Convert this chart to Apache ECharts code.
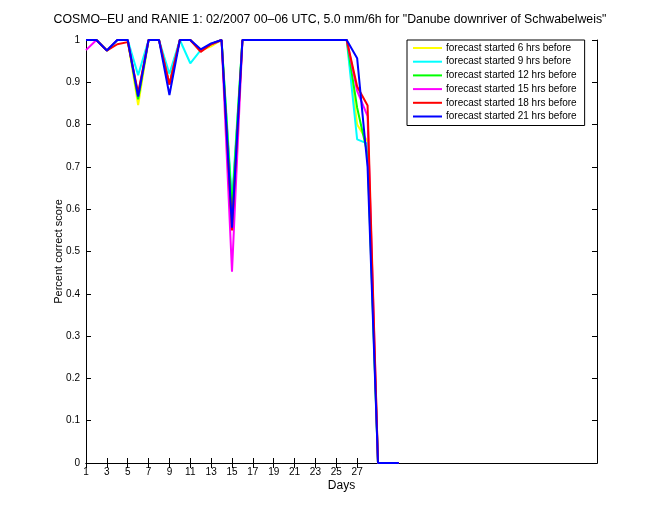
<!DOCTYPE html>
<html>
<head>
<meta charset="utf-8">
<script src="https://cdn.jsdelivr.net/npm/echarts@6/dist/echarts.min.js"></script>
<style>html,body{margin:0;padding:0;background:#fff}#c{width:660px;height:520px}</style>
</head>
<body>
<div id="c"></div>
<script>
var days = [1,2,3,4,5,6,7,8,9,10,11,12,13,14,15,16,17,18,19,20,21,22,23,24,25,26,27,28,29,30,31];
var xTickLabels = [1,3,5,7,9,11,13,15,17,19,21,23,25,27];
var yTickLabels = [0,0.1,0.2,0.3,0.4,0.5,0.6,0.7,0.8,0.9,1];
var seriesNames = ['forecast started 6 hrs before','forecast started 9 hrs before','forecast started 12 hrs before','forecast started 15 hrs before','forecast started 18 hrs before','forecast started 21 hrs before'];
var seriesColors = ['#ffff00','#00ffff','#00ff00','#ff00ff','#ff0000','#0000ff'];

var f06 = [1,1,0.975,1,1,0.846,1,1,0.895,1,1,0.975,0.985,1,0.60,1,1,1,1,1,1,1,1,1,1,1,0.80,0.76,0,0,0];
var f09 = [1,1,0.975,1,1,0.917,1,1,0.92,1,0.945,0.976,0.99,1,0.62,1,1,1,1,1,1,1,1,1,1,1,0.765,0.755,0,0,0];
var f12 = [1,1,0.975,1,1,0.86,1,1,0.895,1,1,0.975,0.99,1,0.60,1,1,1,1,1,1,1,1,1,1,1,0.84,0.73,0,0,0];
var f15 = [0.976,1,0.975,1,1,0.87,1,1,0.895,1,1,0.975,0.99,1,0.452,1,1,1,1,1,1,1,1,1,1,1,0.88,0.82,0,0,0];
var f18 = [1,1,0.975,0.99,0.995,0.875,1,1,0.895,1,1,0.972,0.99,1,0.55,1,1,1,1,1,1,1,1,1,1,1,0.89,0.845,0,0,0];
var f21 = [1,1,0.975,1,1,0.866,1,1,0.87,1,1,0.978,0.992,1,0.556,1,1,1,1,1,1,1,1,1,1,1,0.957,0.70,0,0,0];
var allSeries = [f06,f09,f12,f15,f18,f21];

var FONT = '"Liberation Sans", Arial, Helvetica, sans-serif';
var chart = echarts.init(document.getElementById('c'), null, {renderer:'canvas'});

function pairs(vals){ return days.map(function(d,i){ return [d, vals[i]]; }); }

var series = allSeries.map(function(vals, i){
  return {
    name: seriesNames[i], type:'line', data: pairs(vals),
    symbol:'none', showSymbol:false, animation:false,
    lineStyle:{color:seriesColors[i], width:2},
    itemStyle:{color:seriesColors[i]},
    xAxisIndex:0, yAxisIndex:0
  };
});

var axisLineStyle = {show:true, lineStyle:{color:'#000', width:1}};
chart.setOption({
  animation:false,
  backgroundColor:'#fff',
  title:{
    text:'COSMO\u2013EU and RANIE 1: 02/2007 00\u201306 UTC, 5.0 mm/6h for "Danube downriver of Schwabelweis"',
    left:'center', top:9,
    textStyle:{fontFamily:FONT, fontSize:12.3, fontWeight:'normal', color:'#000'}
  },
  legend:{
    orient:'vertical', left:407, top:40,
    backgroundColor:'#fff', borderColor:'#000', borderWidth:1,
    padding:[3,8,4,5], itemWidth:29, itemHeight:10, itemGap:3.7,
    itemStyle:{opacity:0},
    lineStyle:{width:2},
    textStyle:{fontFamily:FONT, fontSize:10, lineHeight:10, color:'#000', padding:[0,0,0,-1]},
    data: seriesNames
  },
  grid:{left:86, right:63, top:40, bottom:57, containLabel:false},
  xAxis:[{
    type:'value', min:1, max:50, position:'bottom',
    name:'Days', nameLocation:'middle', nameGap:17, nameMoveOverlap:false,
    nameTextStyle:{fontFamily:FONT, fontSize:12, color:'#000'},
    axisLine:axisLineStyle,
    axisTick:{show:true, inside:true, length:5, customValues:xTickLabels, lineStyle:{color:'#000'}},
    axisLabel:{show:true, customValues:xTickLabels, fontFamily:FONT, fontSize:10, color:'#000', margin:4},
    splitLine:{show:false}
  },{
    type:'value', min:1, max:50, position:'top',
    axisLine:axisLineStyle,
    axisTick:{show:true, inside:true, length:5, customValues:xTickLabels, lineStyle:{color:'#000'}},
    axisLabel:{show:false}, splitLine:{show:false}
  }],
  yAxis:[{
    type:'value', min:0, max:1, interval:0.1, position:'left',
    name:'Percent correct score', nameLocation:'middle', nameGap:22, nameRotate:90, nameMoveOverlap:false,
    nameTextStyle:{fontFamily:FONT, fontSize:11, color:'#000'},
    axisLine:axisLineStyle,
    axisTick:{show:true, inside:true, length:5, lineStyle:{color:'#000'}},
    axisLabel:{fontFamily:FONT, fontSize:10, color:'#000', margin:6,
      formatter:function(v){ return String(Math.round(v*10)/10); }},
    splitLine:{show:false}
  },{
    type:'value', min:0, max:1, interval:0.1, position:'right',
    axisLine:axisLineStyle,
    axisTick:{show:true, inside:true, length:5, lineStyle:{color:'#000'}},
    axisLabel:{show:false}, splitLine:{show:false}
  }],
  series: series
});
</script>
</body>
</html>
